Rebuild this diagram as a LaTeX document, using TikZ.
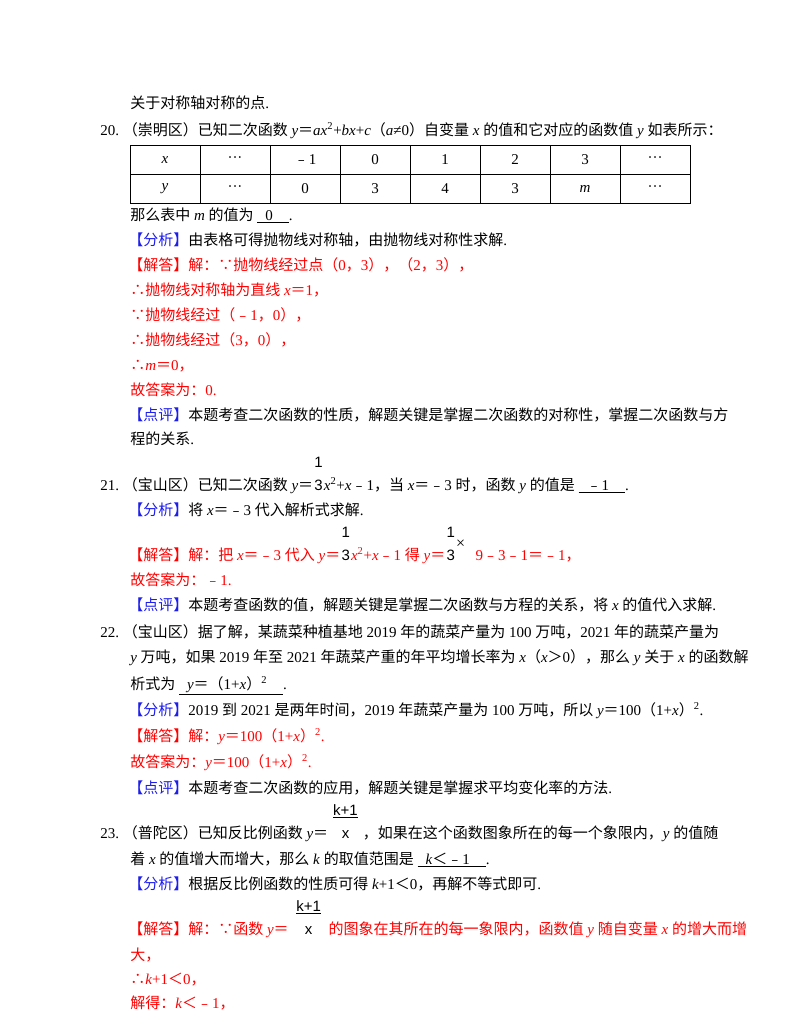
\documentclass[tikz,border=0pt]{standalone}
\usepackage{fontspec}
\setmainfont{Liberation Serif}
\newfontfamily\cjk{Noto Sans CJK SC}
\newfontfamily\arial{Liberation Sans}
\usetikzlibrary{positioning}
% CJK runs switch font by themselves
\XeTeXinterchartokenstate=1
\newXeTeXintercharclass\cjkclass
\newcount\cc
\newcommand\setcls[2]{\cc=#1 \loop\XeTeXcharclass\cc=\cjkclass\ifnum\cc<#2 \advance\cc by 1 \repeat}
\setcls{"4E00}{"9FFF}
\setcls{"3000}{"303F}
\setcls{"FF00}{"FFEF}
\setcls{"FE30}{"FE6F}
\setcls{"2234}{"2235}
\XeTeXinterchartoks 0 \cjkclass={\begingroup\cjk}
\XeTeXinterchartoks 4095 \cjkclass={\begingroup\cjk}
\XeTeXinterchartoks \cjkclass 0={\endgroup}
\XeTeXinterchartoks \cjkclass 4095={\endgroup}
\definecolor{tagblue}{RGB}{30,30,235}
\definecolor{ansred}{RGB}{255,0,0}
\newcommand\tagb[1]{\textcolor{tagblue}{【#1】}}
\newcommand\iv[1]{\textit{#1}}
\newcommand\stk[3]{\makebox[#1][c]{\makebox[0pt][c]{\raisebox{17pt}{#2}}\makebox[0pt][c]{#3}}}
\newcommand\blank[1]{\underline{\hspace{6pt}#1\hspace{12pt}}}
\tikzset{
  line/.style={anchor=base west,inner sep=0pt,font=\fontsize{11.25pt}{13pt}\selectfont},
  red line/.style={line,text=ansred},
  cell/.style={inner sep=0pt,font=\fontsize{11.25pt}{13pt}\selectfont}
}
\begin{document}
\begin{tikzpicture}[x=0.75pt,y=-0.75pt]
\useasboundingbox (0,0) rectangle (800,1035);
\node[line] (l01) at (130,108) {关于对称轴对称的点.};
\node[line] (q20) at (100,135) {20.\ （崇明区）已知二次函数 \iv{y}＝\iv{ax}\textsuperscript{2}+\iv{bx}+\iv{c}（\iv{a}≠0）自变量 \iv{x} 的值和它对应的函数值 \iv{y} 如表所示：};
% table
\draw (130,145) rectangle (690,203);
\draw (130,174) -- (690,174);
\foreach \i in {1,...,7} \draw (130+70*\i,145) -- (130+70*\i,203);
\foreach \t [count=\i from 0] in {\iv{x},···,﹣1,0,1,2,3,···}
  \node[cell] (tx\i) at (165+70*\i,160) {\t};
\foreach \t [count=\i from 0] in {\iv{y},···,0,3,4,3,\iv{m},···}
  \node[cell] (ty\i) at (165+70*\i,189) {\t};
\node[line] (l02) at (130,220) {那么表中 \iv{m} 的值为 \blank{0}.};
\node[line] (l03) at (128,245) {\tagb{分析}由表格可得抛物线对称轴，由抛物线对称性求解.};
\node[red line] (l04) at (128,270) {【解答】解：∵抛物线经过点（0，3），（2，3），};
\node[red line] (l05) at (130,295) {∴抛物线对称轴为直线 \iv{x}＝1，};
\node[red line] (l06) at (130,320) {∵抛物线经过（﹣1，0），};
\node[red line] (l07) at (130,345) {∴抛物线经过（3，0），};
\node[red line] (l08) at (130,370) {∴\iv{m}＝0，};
\node[red line] (l09) at (130,395) {故答案为：0.};
\node[line] (l10) at (128,420) {\tagb{点评}本题考查二次函数的性质，解题关键是掌握二次函数的对称性，掌握二次函数与方};
\node[line] (l11) at (130,444) {程的关系.};
\node[line] (q21) at (100,490) {21.\ （宝山区）已知二次函数 \iv{y}＝\stk{8pt}{\arial 1}{\arial 3}\iv{x}\textsuperscript{2}+\iv{x}﹣1，当 \iv{x}＝﹣3 时，函数 \iv{y} 的值是 \blank{﹣1}.};
\node[line] (l12) at (128,515) {\tagb{分析}将 \iv{x}＝﹣3 代入解析式求解.};
\node[red line] (l13) at (128,560) {【解答】解：把 \iv{x}＝﹣3 代入 \iv{y}＝\stk{8pt}{\textcolor{black}{\arial 1}}{\textcolor{black}{\arial 3}}\iv{x}\textsuperscript{2}+\iv{x}﹣1 得 \iv{y}＝\stk{8pt}{\textcolor{black}{\arial 1}}{\textcolor{black}{\arial 3}}\raisebox{9pt}{\textcolor{black}{\large ×}}\hspace{8pt}9﹣3﹣1＝﹣1，};
\node[red line] (l14) at (130,585) {故答案为：﹣1.};
\node[line] (l15) at (128,610) {\tagb{点评}本题考查函数的值，解题关键是掌握二次函数与方程的关系，将 \iv{x} 的值代入求解.};
\node[line] (q22) at (100,637) {22.\ （宝山区）据了解，某蔬菜种植基地 2019 年的蔬菜产量为 100 万吨，2021 年的蔬菜产量为};
\node[line] (l16) at (130,662) {\iv{y} 万吨，如果 2019 年至 2021 年蔬菜产重的年平均增长率为 \iv{x}（\iv{x}＞0），那么 \iv{y} 关于 \iv{x} 的函数解};
\node[line] (l17) at (130,689) {析式为 \blank{\iv{y}＝（1+\iv{x}）\textsuperscript{2}}.};
\node[line] (l18) at (128,715) {\tagb{分析}2019 到 2021 是两年时间，2019 年蔬菜产量为 100 万吨，所以 \iv{y}＝100（1+\iv{x}）\textsuperscript{2}.};
\node[red line] (l19) at (128,741) {【解答】解：\iv{y}＝100（1+\iv{x}）\textsuperscript{2}.};
\node[red line] (l20) at (130,767) {故答案为：\iv{y}＝100（1+\iv{x}）\textsuperscript{2}.};
\node[line] (l21) at (128,793) {\tagb{点评}本题考查二次函数的应用，解题关键是掌握求平均变化率的方法.};
\node[line] (q23) at (100,838) {23.\ （普陀区）已知反比例函数 \iv{y}＝\stk{26pt}{\arial\underline{k+1}}{\arial x}，如果在这个函数图象所在的每一个象限内，\iv{y} 的值随};
\node[line] (l22) at (130,864) {着 \iv{x} 的值增大而增大，那么 \iv{k} 的取值范围是 \blank{\iv{k}＜﹣1}.};
\node[line] (l23) at (128,889) {\tagb{分析}根据反比例函数的性质可得 \iv{k}+1＜0，再解不等式即可.};
\node[red line] (l24) at (128,934) {【解答】解：∵函数 \iv{y}＝\stk{30pt}{\textcolor{black}{\arial\underline{k+1}}}{\textcolor{black}{\arial x}}的图象在其所在的每一象限内，函数值 \iv{y} 随自变量 \iv{x} 的增大而增};
\node[red line] (l25) at (130,960) {大，};
\node[red line] (l26) at (130,984) {∴\iv{k}+1＜0，};
\node[red line] (l27) at (130,1008) {解得：\iv{k}＜﹣1，};
\end{tikzpicture}
\end{document}
